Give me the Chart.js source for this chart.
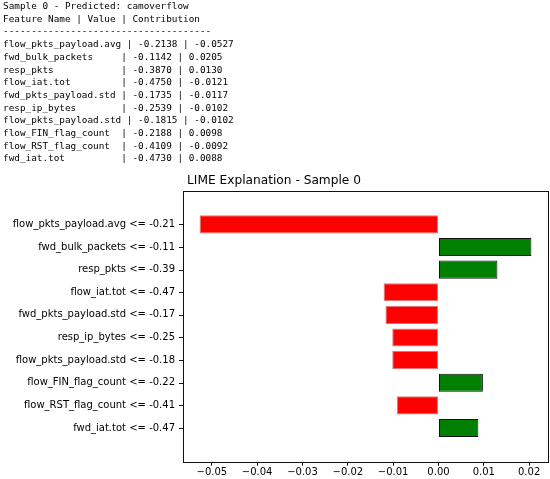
<html>
<head>
<script src="https://cdn.jsdelivr.net/npm/chart.js@4.4.0/dist/chart.umd.min.js"></script>
<style>
  body { margin: 0; background: #fff; }
  #wrap { position: relative; width: 550px; height: 479px; }
  #out {
    position: absolute; left: 3px; top: 0; margin: 0;
    font-family: "DejaVu Sans Mono", monospace; font-size: 9.35px; line-height: 12.7px;
    color: #000;
  }
  #lime { position: absolute; left: 0; top: 0; }
</style>
</head>
<body>
<div id="wrap">
  <canvas id="lime" width="550" height="479"></canvas>
  <pre id="out"></pre>
</div>

<script>
// values from the printed table / LIME explanation
var features = ["flow_pkts_payload.avg", "fwd_bulk_packets", "resp_pkts", "flow_iat.tot",
  "fwd_pkts_payload.std", "resp_ip_bytes", "flow_pkts_payload.std", "flow_FIN_flag_count",
  "flow_RST_flag_count", "fwd_iat.tot"]
var featureValues = [-0.2138, -0.1142, -0.3870, -0.4750, -0.1735, -0.2539, -0.1815, -0.2188, -0.4109, -0.4730]
var contributions = [-0.0527, 0.0205, 0.0130, -0.0121, -0.0117, -0.0102, -0.0102, 0.0098, -0.0092, 0.0088]
var thresholds = ["-0.21", "-0.11", "-0.39", "-0.47", "-0.17", "-0.25", "-0.18", "-0.22", "-0.41", "-0.47"]
var xTicks = [-0.05, -0.04, -0.03, -0.02, -0.01, 0.00, 0.01, 0.02]

// printed text above the plot
var txt = "Sample 0 - Predicted: camoverflow\n"
txt += "Feature Name | Value | Contribution\n"
txt += "-".repeat(37) + "\n"
for (var i = 0; i < features.length; i++) {
  txt += features[i].padEnd(20) + " | " + featureValues[i].toFixed(4) + " | " + contributions[i].toFixed(4) + "\n"
}
document.getElementById("out").textContent = txt

var yLabels = features.map(function(f, i){ return f + " <= " + thresholds[i] })

// matplotlib style margins (5%)
var lo = Math.min.apply(null, contributions.concat([0]))
var hi = Math.max.apply(null, contributions.concat([0]))
var pad = (hi - lo) * 0.05
var yPad = (features.length - 1 + 0.8) * 0.05 + 0.4

// box round the axes + y tick marks
var frame = {
  id: "frame",
  afterDraw: function(chart){
    var a = chart.chartArea, c = chart.ctx
    var ys = chart.scales.y
    c.save()
    c.strokeStyle = "#111"
    c.lineWidth = 1
    c.strokeRect(Math.round(a.left) + 0.5, Math.round(a.top) + 0.5, Math.round(a.right - a.left), Math.round(a.bottom - a.top))
    c.beginPath()
    ys.ticks.forEach(function(t){
      var py = Math.round(ys.getPixelForValue(t.value)) + 0.5
      c.moveTo(Math.round(a.left) - 4, py)
      c.lineTo(Math.round(a.left), py)
    })
    c.stroke()
    c.restore()
  }
}

Chart.defaults.font.family = "DejaVu Sans"
Chart.defaults.color = "#000"

new Chart(document.getElementById("lime"), {
  type: "bar",
  data: {
    datasets: [{
      data: contributions.map(function(v, i){ return {x: v, y: i} }),
      backgroundColor: contributions.map(function(v){ return v > 0 ? "#008000" : "#ff0000" }),
      borderColor: contributions.map(function(v){ return v > 0 ? "#111" : "rgba(150,0,0,0.5)" }),
      borderWidth: 1,
      borderSkipped: false,
      barPercentage: 0.8,
      categoryPercentage: 1
    }]
  },
  options: {
    indexAxis: "y",
    responsive: false,
    animation: false,
    layout: { padding: { left: 0, right: 2, top: 0, bottom: 0 } },
    plugins: {
      legend: { display: false },
      tooltip: { enabled: false },
      title: {
        display: true,
        text: "LIME Explanation - Sample 0",
        font: { size: 12.2, weight: "normal" },
        color: "#000",
        padding: { top: 174, bottom: 2 }
      }
    },
    scales: {
      x: {
        type: "linear",
        min: lo - pad,
        max: hi + pad,
        afterBuildTicks: function(s){ s.ticks = xTicks.map(function(v){ return {value: v} }) },
        afterFit: function(s){ s.height = 17.3 },
        ticks: {
          font: { size: 10 },
          padding: 1,
          callback: function(v){ return v.toFixed(2).replace("-", "\u2212") }
        },
        grid: { drawOnChartArea: false, tickLength: 4, color: "#000" },
        border: { display: false }
      },
      y: {
        type: "linear",
        reverse: true,
        min: -yPad,
        max: features.length - 1 + yPad,
        afterBuildTicks: function(s){ s.ticks = features.map(function(f, i){ return {value: i} }) },
        afterFit: function(s){ s.width = 183 },
        ticks: {
          font: { size: 10 },
          padding: 3,
          autoSkip: false,
          callback: function(v){ return yLabels[v] }
        },
        grid: { display: false, tickLength: 5 },
        border: { display: false }
      }
    }
  },
  plugins: [frame]
})
</script>
</body>
</html>
